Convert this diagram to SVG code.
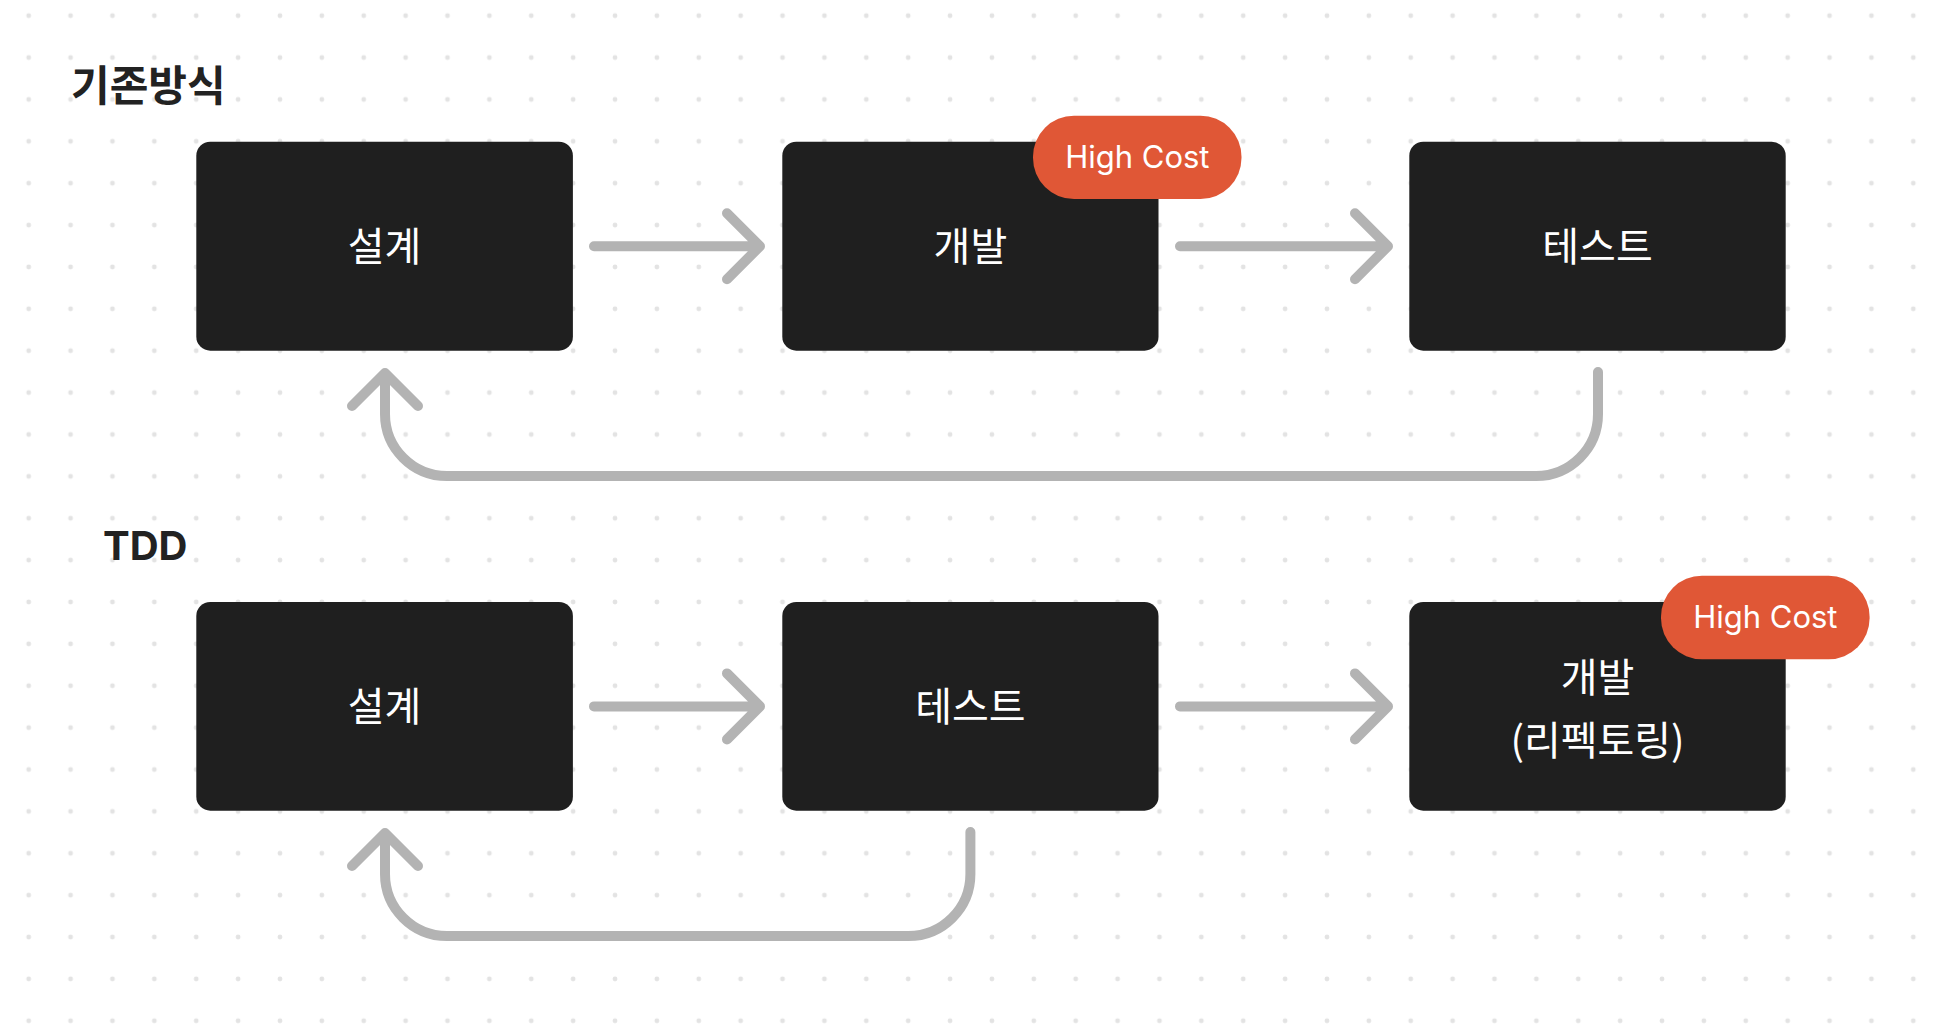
<svg xmlns="http://www.w3.org/2000/svg" width="1938" height="1034" viewBox="0 0 1938 1034">
<style>
.title{font-family:"Inter","Noto Sans CJK KR",sans-serif;font-weight:700;font-size:40px;fill:#222222}
.title-kr{font-family:"Noto Sans CJK KR",sans-serif;font-weight:700;font-size:42px;fill:#222222}
.box{fill:#1f1f1f}
.label{font-family:"Noto Sans CJK KR",sans-serif;font-weight:400;font-size:40px;fill:#ffffff;text-anchor:middle}
.badge{fill:#e05736}
.badge-text{font-family:"Inter","Liberation Sans",sans-serif;font-weight:400;font-size:31px;fill:#ffffff;text-anchor:middle}
.conn{fill:none;stroke:#b3b3b3;stroke-width:10;stroke-linecap:round;stroke-linejoin:round}
</style>
<defs>
<pattern id="dots" patternUnits="userSpaceOnUse" x="7.76" y="-5.24" width="41.88" height="41.88">
<circle cx="20.94" cy="20.94" r="2.4" fill="#e3e3e3"/>
</pattern>
</defs>
<rect width="1938" height="1034" fill="#ffffff"/>
<rect width="1938" height="1034" fill="url(#dots)"/>

<text class="title-kr" x="71" y="101">기존방식</text>
<text class="title" x="103" y="560">TDD</text>

<g id="connectors">
<path class="conn" d="M594,246.2 H760 M727,213.2 L760,246.2 L727,279.2"/>
<path class="conn" d="M1180,246.2 H1388 M1355,213.2 L1388,246.2 L1355,279.2"/>
<path class="conn" d="M1598,372 V414 A62,62 0 0 1 1536,476 H447 A62,62 0 0 1 385,414 V374 M352,406 L385,373 L418,406"/>
<path class="conn" d="M594,706.4 H760 M727,673.4 L760,706.4 L727,739.4"/>
<path class="conn" d="M1180,706.4 H1388 M1355,673.4 L1388,706.4 L1355,739.4"/>
<path class="conn" d="M970.4,832 V874 A62,62 0 0 1 908.4,936 H447 A62,62 0 0 1 385,874 V834 M352,866 L385,833 L418,866"/>
</g>

<g id="node-old-design">
<rect class="box" x="196.3" y="141.7" width="376.6" height="209" rx="14"/>
<text class="label" x="384.6" y="261">설계</text>
</g>
<g id="node-old-dev">
<rect class="box" x="782.3" y="141.7" width="376.2" height="209" rx="14"/>
<text class="label" x="970.4" y="261">개발</text>
</g>
<g id="badge-old">
<rect class="badge" x="1033" y="115.7" width="208.5" height="83.3" rx="41"/>
<text class="badge-text" x="1137.3" y="167.5">High Cost</text>
</g>
<g id="node-old-test">
<rect class="box" x="1409.3" y="141.7" width="376.4" height="209" rx="14"/>
<text class="label" x="1597.5" y="261">테스트</text>
</g>

<g id="node-tdd-design">
<rect class="box" x="196.3" y="602" width="376.6" height="208.7" rx="14"/>
<text class="label" x="384.6" y="721">설계</text>
</g>
<g id="node-tdd-test">
<rect class="box" x="782.3" y="602" width="376.2" height="208.7" rx="14"/>
<text class="label" x="970.4" y="721">테스트</text>
</g>
<g id="node-tdd-dev">
<rect class="box" x="1409.3" y="602" width="376.4" height="208.7" rx="14"/>
<text class="label" x="1597.5" y="692">개발</text>
<text class="label" x="1597.5" y="755">(리펙토링)</text>
</g>
<g id="badge-tdd">
<rect class="badge" x="1661" y="575.7" width="208.6" height="83.6" rx="41"/>
<text class="badge-text" x="1765.3" y="627.5">High Cost</text>
</g>
</svg>
